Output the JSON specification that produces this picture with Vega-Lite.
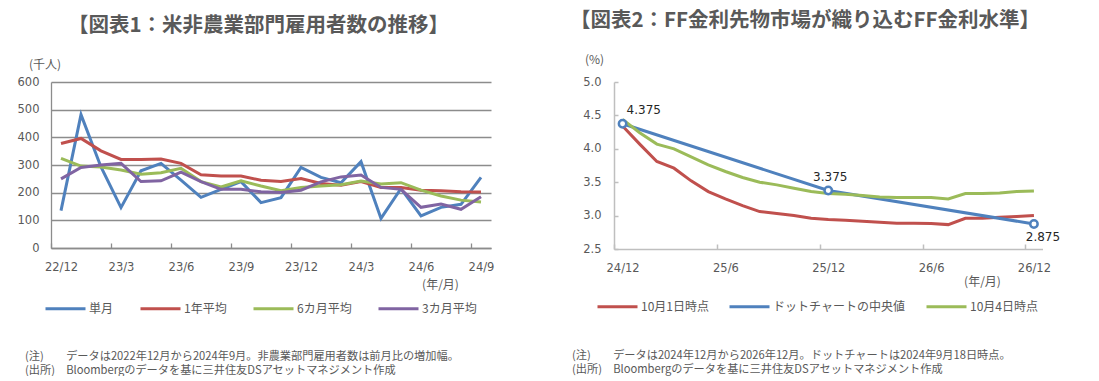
{
  "$schema": "https://vega.github.io/schema/vega-lite/v6.json",
  "padding": {"left": 17, "top": 10, "right": 0, "bottom": 0},
  "background": "white",
  "spacing": 76,
  "resolve": {"scale": {"color": "independent"}},
  "config": {
    "view": {"stroke": null},
    "axis": {"labelFont": "DejaVu Sans", "labelFontSize": 11.5, "labelColor": "#595959", "titleFont": "Noto Sans CJK JP", "titleFontSize": 12, "titleFontWeight": "normal", "titleColor": "#595959"},
    "legend": {"labelFont": "Noto Sans CJK JP", "labelFontSize": 12, "labelColor": "#595959", "symbolType": "stroke", "symbolSize": 1600, "symbolStrokeWidth": 3, "labelOffset": 2, "columnPadding": 20, "padding": 0, "title": null, "direction": "horizontal", "orient": "none"}
  },
  "hconcat": [
    {
      "title": {"text": "【図表1：米非農業部門雇用者数の推移】", "anchor": "middle", "frame": "bounds", "dx": 3, "offset": 22, "font": "Noto Sans CJK JP", "fontSize": 20.5, "fontWeight": "bold", "color": "#595959"},
      "resolve": {"scale": {"color": "independent"}},
      "vconcat": [
        {
          "width": 440,
          "height": 166,
          "title": {"text": ["(注)　　データは2022年12月から2024年9月。非農業部門雇用者数は前月比の増加幅。", "(出所)　Bloombergのデータを基に三井住友DSアセットマネジメント作成"], "orient": "bottom", "anchor": "start", "frame": "group", "dx": -26, "offset": 36, "font": "Noto Sans CJK JP", "fontSize": 11.2, "fontWeight": "normal", "color": "#595959", "lineHeight": 13.5},
          "data": {"values": [
            {"s": "単月", "m": "22/12", "v": 135}, {"s": "単月", "m": "23/1", "v": 482}, {"s": "単月", "m": "23/2", "v": 293}, {"s": "単月", "m": "23/3", "v": 146}, {"s": "単月", "m": "23/4", "v": 279}, {"s": "単月", "m": "23/5", "v": 306}, {"s": "単月", "m": "23/6", "v": 245}, {"s": "単月", "m": "23/7", "v": 183}, {"s": "単月", "m": "23/8", "v": 212}, {"s": "単月", "m": "23/9", "v": 240}, {"s": "単月", "m": "23/10", "v": 164}, {"s": "単月", "m": "23/11", "v": 182}, {"s": "単月", "m": "23/12", "v": 291}, {"s": "単月", "m": "24/1", "v": 255}, {"s": "単月", "m": "24/2", "v": 236}, {"s": "単月", "m": "24/3", "v": 312}, {"s": "単月", "m": "24/4", "v": 107}, {"s": "単月", "m": "24/5", "v": 215}, {"s": "単月", "m": "24/6", "v": 116}, {"s": "単月", "m": "24/7", "v": 147}, {"s": "単月", "m": "24/8", "v": 158}, {"s": "単月", "m": "24/9", "v": 255},
            {"s": "1年平均", "m": "22/12", "v": 378}, {"s": "1年平均", "m": "23/1", "v": 396}, {"s": "1年平均", "m": "23/2", "v": 351}, {"s": "1年平均", "m": "23/3", "v": 320}, {"s": "1年平均", "m": "23/4", "v": 320}, {"s": "1年平均", "m": "23/5", "v": 322}, {"s": "1年平均", "m": "23/6", "v": 306}, {"s": "1年平均", "m": "23/7", "v": 265}, {"s": "1年平均", "m": "23/8", "v": 260}, {"s": "1年平均", "m": "23/9", "v": 260}, {"s": "1年平均", "m": "23/10", "v": 245}, {"s": "1年平均", "m": "23/11", "v": 240}, {"s": "1年平均", "m": "23/12", "v": 251}, {"s": "1年平均", "m": "24/1", "v": 233}, {"s": "1年平均", "m": "24/2", "v": 227}, {"s": "1年平均", "m": "24/3", "v": 240}, {"s": "1年平均", "m": "24/4", "v": 219}, {"s": "1年平均", "m": "24/5", "v": 219}, {"s": "1年平均", "m": "24/6", "v": 209}, {"s": "1年平均", "m": "24/7", "v": 207}, {"s": "1年平均", "m": "24/8", "v": 203}, {"s": "1年平均", "m": "24/9", "v": 202},
            {"s": "6カ月平均", "m": "22/12", "v": 324}, {"s": "6カ月平均", "m": "23/1", "v": 296}, {"s": "6カ月平均", "m": "23/2", "v": 293}, {"s": "6カ月平均", "m": "23/3", "v": 282}, {"s": "6カ月平均", "m": "23/4", "v": 267}, {"s": "6カ月平均", "m": "23/5", "v": 272}, {"s": "6カ月平均", "m": "23/6", "v": 288}, {"s": "6カ月平均", "m": "23/7", "v": 240}, {"s": "6カ月平均", "m": "23/8", "v": 221}, {"s": "6カ月平均", "m": "23/9", "v": 243}, {"s": "6カ月平均", "m": "23/10", "v": 224}, {"s": "6カ月平均", "m": "23/11", "v": 207}, {"s": "6カ月平均", "m": "23/12", "v": 219}, {"s": "6カ月平均", "m": "24/1", "v": 224}, {"s": "6カ月平均", "m": "24/2", "v": 229}, {"s": "6カ月平均", "m": "24/3", "v": 242}, {"s": "6カ月平均", "m": "24/4", "v": 231}, {"s": "6カ月平均", "m": "24/5", "v": 236}, {"s": "6カ月平均", "m": "24/6", "v": 209}, {"s": "6カ月平均", "m": "24/7", "v": 188}, {"s": "6カ月平均", "m": "24/8", "v": 173}, {"s": "6カ月平均", "m": "24/9", "v": 166},
            {"s": "3カ月平均", "m": "22/12", "v": 250}, {"s": "3カ月平均", "m": "23/1", "v": 291}, {"s": "3カ月平均", "m": "23/2", "v": 300}, {"s": "3カ月平均", "m": "23/3", "v": 306}, {"s": "3カ月平均", "m": "23/4", "v": 240}, {"s": "3カ月平均", "m": "23/5", "v": 243}, {"s": "3カ月平均", "m": "23/6", "v": 274}, {"s": "3カ月平均", "m": "23/7", "v": 240}, {"s": "3カ月平均", "m": "23/8", "v": 212}, {"s": "3カ月平均", "m": "23/9", "v": 212}, {"s": "3カ月平均", "m": "23/10", "v": 203}, {"s": "3カ月平均", "m": "23/11", "v": 201}, {"s": "3カ月平均", "m": "23/12", "v": 209}, {"s": "3カ月平均", "m": "24/1", "v": 239}, {"s": "3カ月平均", "m": "24/2", "v": 257}, {"s": "3カ月平均", "m": "24/3", "v": 264}, {"s": "3カ月平均", "m": "24/4", "v": 219}, {"s": "3カ月平均", "m": "24/5", "v": 212}, {"s": "3カ月平均", "m": "24/6", "v": 147}, {"s": "3カ月平均", "m": "24/7", "v": 159}, {"s": "3カ月平均", "m": "24/8", "v": 140}, {"s": "3カ月平均", "m": "24/9", "v": 185}
          ]},
          "mark": {"type": "line", "strokeWidth": 3},
          "encoding": {
            "x": {"field": "m", "type": "ordinal", "title": "(年/月)",
              "scale": {"type": "point", "padding": 0.5, "domain": ["22/12","23/1","23/2","23/3","23/4","23/5","23/6","23/7","23/8","23/9","23/10","23/11","23/12","24/1","24/2","24/3","24/4","24/5","24/6","24/7","24/8","24/9"]},
              "axis": {"values": ["22/12","23/3","23/6","23/9","23/12","24/3","24/6","24/9"], "labelAngle": 0, "tickOffset": -10, "labelOffset": 10, "tickSize": -5, "tickColor": "#8c8c8c", "tickWidth": 1.3, "domainColor": "#8c8c8c", "domainWidth": 1.3, "labelPadding": 18, "grid": false, "titleX": 389, "titleY": 36, "titleAlign": "center", "titleBaseline": "middle", "titleAngle": 0}},
            "y": {"field": "v", "type": "quantitative", "title": "(千人)",
              "scale": {"domain": [0, 600], "nice": false},
              "axis": {"values": [0,100,200,300,400,500,600], "grid": true, "gridColor": "#8c8c8c", "gridWidth": 1.3, "domainColor": "#8c8c8c", "domainWidth": 1.3, "ticks": false, "labelPadding": 12, "titleAngle": 0, "titleX": -6.5, "titleY": -18, "titleAlign": "center", "titleBaseline": "middle"}},
            "color": {"field": "s", "type": "nominal",
              "scale": {"domain": ["単月", "1年平均", "6カ月平均", "3カ月平均"], "range": ["#4F81BD", "#C0504D", "#9BBB59", "#8064A2"]},
              "legend": {"legendX": -7, "legendY": 205}}
          }
        }
      ]
    },
    {
      "title": {"text": "【図表2：FF金利先物市場が織り込むFF金利水準】", "anchor": "middle", "frame": "bounds", "dx": -11, "offset": 22, "font": "Noto Sans CJK JP", "fontSize": 20.5, "fontWeight": "bold", "color": "#595959"},
      "resolve": {"scale": {"color": "independent"}},
      "vconcat": [
        {
          "width": 428.5,
          "height": 167,
          "title": {"text": ["(注)　　データは2024年12月から2026年12月。ドットチャートは2024年9月18日時点。", "(出所)　Bloombergのデータを基に三井住友DSアセットマネジメント作成"], "orient": "bottom", "anchor": "start", "frame": "group", "dx": -42, "offset": 37, "font": "Noto Sans CJK JP", "fontSize": 11.2, "fontWeight": "normal", "color": "#595959", "lineHeight": 13.5},
          "data": {"values": [
            {"s": "10月1日時点", "m": "24/12", "v": 4.34}, {"s": "10月1日時点", "m": "25/1", "v": 4.07}, {"s": "10月1日時点", "m": "25/2", "v": 3.81}, {"s": "10月1日時点", "m": "25/3", "v": 3.71}, {"s": "10月1日時点", "m": "25/4", "v": 3.52}, {"s": "10月1日時点", "m": "25/5", "v": 3.36}, {"s": "10月1日時点", "m": "25/6", "v": 3.25}, {"s": "10月1日時点", "m": "25/7", "v": 3.15}, {"s": "10月1日時点", "m": "25/8", "v": 3.06}, {"s": "10月1日時点", "m": "25/9", "v": 3.03}, {"s": "10月1日時点", "m": "25/10", "v": 3.0}, {"s": "10月1日時点", "m": "25/11", "v": 2.96}, {"s": "10月1日時点", "m": "25/12", "v": 2.94}, {"s": "10月1日時点", "m": "26/1", "v": 2.93}, {"s": "10月1日時点", "m": "26/2", "v": 2.915}, {"s": "10月1日時点", "m": "26/3", "v": 2.9}, {"s": "10月1日時点", "m": "26/4", "v": 2.885}, {"s": "10月1日時点", "m": "26/5", "v": 2.885}, {"s": "10月1日時点", "m": "26/6", "v": 2.88}, {"s": "10月1日時点", "m": "26/7", "v": 2.865}, {"s": "10月1日時点", "m": "26/8", "v": 2.96}, {"s": "10月1日時点", "m": "26/9", "v": 2.96}, {"s": "10月1日時点", "m": "26/10", "v": 2.975}, {"s": "10月1日時点", "m": "26/11", "v": 2.985}, {"s": "10月1日時点", "m": "26/12", "v": 3.0},
            {"s": "ドットチャートの中央値", "m": "24/12", "v": 4.375}, {"s": "ドットチャートの中央値", "m": "25/12", "v": 3.375}, {"s": "ドットチャートの中央値", "m": "26/12", "v": 2.875},
            {"s": "10月4日時点", "m": "24/12", "v": 4.44}, {"s": "10月4日時点", "m": "25/1", "v": 4.24}, {"s": "10月4日時点", "m": "25/2", "v": 4.07}, {"s": "10月4日時点", "m": "25/3", "v": 4.0}, {"s": "10月4日時点", "m": "25/4", "v": 3.88}, {"s": "10月4日時点", "m": "25/5", "v": 3.76}, {"s": "10月4日時点", "m": "25/6", "v": 3.66}, {"s": "10月4日時点", "m": "25/7", "v": 3.57}, {"s": "10月4日時点", "m": "25/8", "v": 3.5}, {"s": "10月4日時点", "m": "25/9", "v": 3.46}, {"s": "10月4日時点", "m": "25/10", "v": 3.41}, {"s": "10月4日時点", "m": "25/11", "v": 3.36}, {"s": "10月4日時点", "m": "25/12", "v": 3.33}, {"s": "10月4日時点", "m": "26/1", "v": 3.32}, {"s": "10月4日時点", "m": "26/2", "v": 3.3}, {"s": "10月4日時点", "m": "26/3", "v": 3.28}, {"s": "10月4日時点", "m": "26/4", "v": 3.27}, {"s": "10月4日時点", "m": "26/5", "v": 3.27}, {"s": "10月4日時点", "m": "26/6", "v": 3.27}, {"s": "10月4日時点", "m": "26/7", "v": 3.25}, {"s": "10月4日時点", "m": "26/8", "v": 3.33}, {"s": "10月4日時点", "m": "26/9", "v": 3.33}, {"s": "10月4日時点", "m": "26/10", "v": 3.34}, {"s": "10月4日時点", "m": "26/11", "v": 3.36}, {"s": "10月4日時点", "m": "26/12", "v": 3.37}
          ]},
          "encoding": {
            "x": {"field": "m", "type": "ordinal", "title": "(年/月)",
              "scale": {"type": "point", "padding": 0.5, "domain": ["24/12","25/1","25/2","25/3","25/4","25/5","25/6","25/7","25/8","25/9","25/10","25/11","25/12","26/1","26/2","26/3","26/4","26/5","26/6","26/7","26/8","26/9","26/10","26/11","26/12"]},
              "axis": {"values": ["24/12","25/6","25/12","26/6","26/12"], "labelAngle": 0, "tickOffset": -8.57, "labelOffset": 8.57, "tickSize": -5, "tickColor": "#bfbfbf", "tickWidth": 1.5, "domainColor": "#bfbfbf", "domainWidth": 1.5, "labelPadding": 18, "grid": false, "titleX": 368, "titleY": 32, "titleAlign": "center", "titleBaseline": "middle", "titleAngle": 0}},
            "y": {"field": "v", "type": "quantitative", "title": "(%)",
              "scale": {"domain": [2.5, 5.0], "nice": false, "zero": false},
              "axis": {"values": [2.5,3.0,3.5,4.0,4.5,5.0], "format": ".1f", "grid": false, "domainColor": "#bfbfbf", "domainWidth": 1.5, "tickColor": "#bfbfbf", "tickWidth": 1.5, "tickSize": -4, "labelPadding": 17, "titleAngle": 0, "titleX": -20, "titleY": -23, "titleAlign": "center", "titleBaseline": "middle"}}
          },
          "layer": [
            {
              "mark": {"type": "line", "strokeWidth": 3},
              "encoding": {
                "color": {"field": "s", "type": "nominal",
                  "scale": {"domain": ["10月1日時点", "ドットチャートの中央値", "10月4日時点"], "range": ["#C0504D", "#4F81BD", "#9BBB59"]},
                  "legend": {"legendX": -18, "legendY": 203, "columnPadding": 14}}
              }
            },
            {
              "transform": [{"filter": "datum.s === 'ドットチャートの中央値'"}],
              "mark": {"type": "point", "filled": true, "fill": "white", "stroke": "#4F81BD", "strokeWidth": 2.5, "size": 55, "opacity": 1},
              "encoding": {}
            },
            {
              "transform": [{"filter": "datum.s === 'ドットチャートの中央値' && datum.m === '24/12'"}],
              "mark": {"type": "text", "align": "left", "baseline": "middle", "dx": 4, "dy": -14, "font": "DejaVu Sans", "fontSize": 12, "color": "#262626"},
              "encoding": {"text": {"field": "v", "type": "quantitative", "format": ".3f"}}
            },
            {
              "transform": [{"filter": "datum.s === 'ドットチャートの中央値' && datum.m === '25/12'"}],
              "mark": {"type": "text", "align": "center", "baseline": "middle", "dx": 2, "dy": -14, "font": "DejaVu Sans", "fontSize": 12, "color": "#262626"},
              "encoding": {"text": {"field": "v", "type": "quantitative", "format": ".3f"}}
            },
            {
              "transform": [{"filter": "datum.s === 'ドットチャートの中央値' && datum.m === '26/12'"}],
              "mark": {"type": "text", "align": "center", "baseline": "middle", "dx": 9, "dy": 13, "font": "DejaVu Sans", "fontSize": 12, "color": "#262626"},
              "encoding": {"text": {"field": "v", "type": "quantitative", "format": ".3f"}}
            }
          ]
        }
      ]
    }
  ]
}
